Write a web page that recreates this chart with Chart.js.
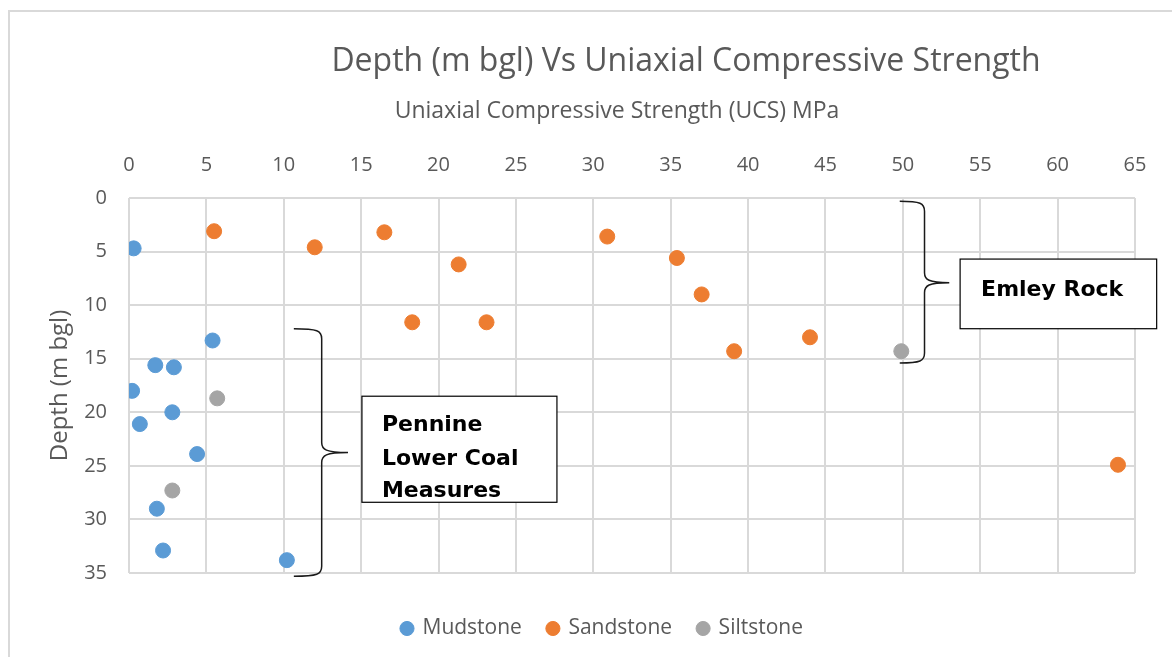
<!DOCTYPE html>
<html>
<head>
<meta charset="utf-8">
<script src="https://cdn.jsdelivr.net/npm/chart.js@4"></script>
<style>
  html, body { margin: 0; padding: 0; background: #fff; }
  #wrap { width: 1172px; height: 657px; position: relative; }
</style>
</head>
<body>
<div id="wrap"><canvas id="ucsChart" width="1172" height="657"></canvas></div>
<script>
// Depth vs UCS values
const mudstoneUcs   = [0.3, 5.4, 1.7, 2.9, 0.2, 2.8, 0.7, 4.4, 1.8, 2.2, 10.2];
const mudstoneDepth = [4.7, 13.3, 15.6, 15.8, 18.0, 20.0, 21.1, 23.9, 29.0, 32.9, 33.8];

const sandstoneUcs   = [5.5, 12.0, 16.5, 21.3, 30.9, 35.4, 37.0, 18.3, 23.1, 39.1, 44.0, 63.9];
const sandstoneDepth = [3.1, 4.6, 3.2, 6.2, 3.6, 5.6, 9.0, 11.6, 11.6, 14.3, 13.0, 24.9];

const siltstoneUcs   = [5.7, 2.8, 49.9];
const siltstoneDepth = [18.7, 27.3, 14.3];

const ucsTicks = [0, 5, 10, 15, 20, 25, 30, 35, 40, 45, 50, 55, 60, 65];
const depthTicks = [0, 5, 10, 15, 20, 25, 30, 35];

const colors = {
    mudstone: '#5b9bd5',
    sandstone: '#ed7d31',
    siltstone: '#a5a5a5',
    text: '#595959',
    grid: '#d9d9d9'
};

function toPoints(xs, ys) {
    return xs.map((x, i) => ({ x: x, y: ys[i] }));
}

// brace "}" opening to the left, tip pointing right
function drawBrace(ctx, xEnd, xSpine, xTip, yTop, yMid, yBot) {
    const r = 10;
    ctx.beginPath();
    ctx.moveTo(xEnd, yTop);
    ctx.bezierCurveTo(xSpine - 4, yTop, xSpine, yTop + 2, xSpine, yTop + r);
    ctx.lineTo(xSpine, yMid - r);
    ctx.bezierCurveTo(xSpine, yMid - 3, xSpine + 4, yMid, xTip, yMid);
    ctx.bezierCurveTo(xSpine + 4, yMid, xSpine, yMid + 3, xSpine, yMid + r);
    ctx.lineTo(xSpine, yBot - r);
    ctx.bezierCurveTo(xSpine, yBot - 2, xSpine - 4, yBot, xEnd, yBot);
    ctx.stroke();
}

const annotations = {
    id: 'annotations',
    beforeDraw(chart) {
        const ctx = chart.ctx;
        ctx.save();
        ctx.strokeStyle = colors.grid;
        ctx.lineWidth = 2;
        ctx.strokeRect(9, 11, 1200, 700);
        ctx.restore();
    },
    afterLayout(chart) {
        // legend sits lower and a bit right of centre in the original
        const lg = chart.legend;
        if (lg) {
            lg.top += 19;
            lg.bottom += 19;
            lg.left += 35;
            lg.right += 35;
        }
    },
    afterDraw(chart) {
        const ctx = chart.ctx;
        const xs = chart.scales.x;
        const ys = chart.scales.y;
        const px = v => xs.getPixelForValue(v);
        const py = v => ys.getPixelForValue(v);

        ctx.save();
        // main title and x axis title
        ctx.fillStyle = colors.text;
        ctx.textAlign = 'center';
        ctx.textBaseline = 'middle';
        ctx.font = '32px "Open Sans"';
        ctx.fillText('Depth (m bgl) Vs Uniaxial Compressive Strength', 686, 62);
        ctx.font = '23px "Open Sans"';
        ctx.fillText('Uniaxial Compressive Strength (UCS) MPa', 617, 111);

        // braces
        ctx.strokeStyle = '#1a1a1a';
        ctx.lineWidth = 1.5;
        drawBrace(ctx, px(49.8), px(51.4), px(53.0), py(0.3), py(7.9), py(15.4));
        drawBrace(ctx, px(10.65), px(12.45), px(14.15), py(12.2), py(23.75), py(35.3));

        // boxes
        ctx.fillStyle = '#fff';
        ctx.strokeStyle = '#000';
        ctx.lineWidth = 1.2;
        const b1 = [px(53.7), py(5.7), px(66.4) - px(53.7), py(12.2) - py(5.7)];
        ctx.fillRect(...b1);
        ctx.strokeRect(...b1);
        const b2 = [px(15.05), py(18.5), px(27.65) - px(15.05), py(28.4) - py(18.5)];
        ctx.fillRect(...b2);
        ctx.strokeRect(...b2);

        ctx.fillStyle = '#000';
        ctx.font = 'bold 22px "DejaVu Sans"';
        ctx.textAlign = 'left';
        ctx.textBaseline = 'alphabetic';
        ctx.fillText('Emley Rock', b1[0] + 21, b1[1] + 37);
        ctx.fillText('Pennine', b2[0] + 20, b2[1] + 35);
        ctx.fillText('Lower Coal', b2[0] + 20, b2[1] + 69);
        ctx.fillText('Measures', b2[0] + 20, b2[1] + 101);
        ctx.restore();
    }
};

Chart.defaults.font.family = '"Open Sans", sans-serif';
Chart.defaults.color = colors.text;

new Chart(document.getElementById('ucsChart'), {
    type: 'scatter',
    data: {
        datasets: [
            {
                label: 'Mudstone',
                data: toPoints(mudstoneUcs, mudstoneDepth),
                backgroundColor: colors.mudstone,
                borderColor: colors.mudstone,
                pointRadius: 7.5
            },
            {
                label: 'Sandstone',
                data: toPoints(sandstoneUcs, sandstoneDepth),
                backgroundColor: colors.sandstone,
                borderColor: colors.sandstone,
                pointRadius: 7.5
            },
            {
                label: 'Siltstone',
                data: toPoints(siltstoneUcs, siltstoneDepth),
                backgroundColor: colors.siltstone,
                borderColor: colors.siltstone,
                pointRadius: 7.5
            }
        ]
    },
    options: {
        responsive: false,
        animation: false,
        layout: {
            padding: { left: 0, right: 37, top: 80, bottom: 27 }
        },
        plugins: {
            legend: {
                position: 'bottom',
                labels: {
                    usePointStyle: true,
                    pointStyle: 'circle',
                    boxWidth: 10,
                    boxHeight: 10,
                    padding: 26,
                    color: colors.text,
                    font: { size: 21 }
                }
            },
            tooltip: { enabled: false }
        },
        scales: {
            x: {
                type: 'linear',
                position: 'top',
                min: 0,
                max: 65,
                afterBuildTicks: s => { s.ticks = ucsTicks.map(v => ({ value: v })); },
                afterFit: s => { s.height = 118; },
                ticks: { padding: 21, font: { size: 20 }, color: colors.text },
                grid: { color: colors.grid, lineWidth: 2, drawTicks: false },
                border: { display: false },
                title: { display: false }
            },
            y: {
                type: 'linear',
                reverse: true,
                min: 0,
                max: 35,
                afterBuildTicks: s => { s.ticks = depthTicks.map(v => ({ value: v })); },
                afterFit: s => { s.width = 129; },
                ticks: { padding: 22, font: { size: 20 }, color: colors.text },
                grid: { color: colors.grid, lineWidth: 2, drawTicks: false },
                border: { display: false },
                title: {
                    display: true,
                    text: 'Depth (m bgl)',
                    font: { size: 24 },
                    color: colors.text,
                    padding: { top: 46, bottom: 0 }
                }
            }
        }
    },
    plugins: [annotations]
});
</script>
</body>
</html>
